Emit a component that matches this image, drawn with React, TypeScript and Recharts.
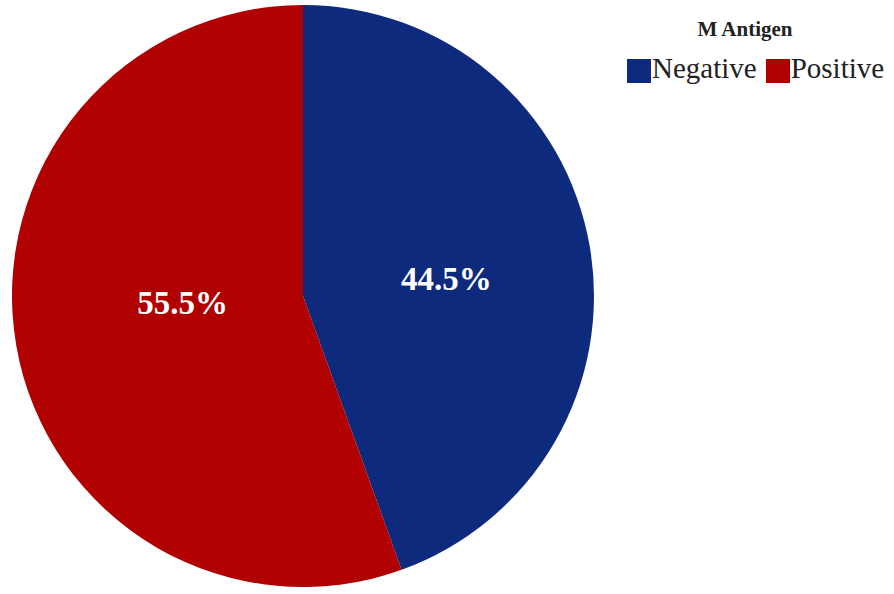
import React from 'react';
import { PieChart, Pie, Cell, Legend } from 'recharts';

const categories = ['Negative', 'Positive'];
const shares = [44.5, 55.5];
const COLORS = ['#0e2a7c', '#b00000'];

const data = categories.map((name, i) => ({ name, value: shares[i] }));

const SERIF = "'Liberation Serif', 'Times New Roman', Times, serif";
const RADIAN = Math.PI / 180;
// label radius as a fraction of the pie radius, plus a small vertical nudge
const LABEL_POS = [
  { r: 0.5, dy: 8 },
  { r: 0.42, dy: -14 },
];

const renderLabel = (props: any) => {
  const { cx, cy, midAngle, outerRadius, index } = props;
  const pos = LABEL_POS[index];
  const r = outerRadius * pos.r;
  const x = cx + r * Math.cos(-midAngle * RADIAN);
  const y = cy + r * Math.sin(-midAngle * RADIAN) + pos.dy;
  return (
    <text
      x={x}
      y={y}
      fill="#ffffff"
      textAnchor="middle"
      dominantBaseline="central"
      fontFamily={SERIF}
      fontWeight="bold"
      fontSize={33}
    >
      {`${shares[index].toFixed(1)}%`}
    </text>
  );
};

const renderLegend = () => (
  <div style={{ fontFamily: SERIF, color: '#222' }}>
    <div style={{ fontWeight: 'bold', fontSize: 21, lineHeight: '21px', width: 250, textAlign: 'center' }}>
      M Antigen
    </div>
    <div style={{ display: 'flex', alignItems: 'flex-start', fontSize: 29, lineHeight: '29px', marginTop: 14, marginLeft: 7 }}>
      {categories.map((c, i) => (
        <span key={c} style={{ display: 'flex', alignItems: 'flex-start', marginRight: i === 0 ? 9 : 0 }}>
          <span style={{ display: 'inline-block', width: 24, height: 24, background: COLORS[i], marginTop: 5, marginRight: 1 }} />
          {c}
        </span>
      ))}
    </div>
  </div>
);

export default function App() {
  return (
    <div style={{ position: 'absolute', left: 0, top: 0, width: 894, height: 594, background: '#fff' }}>
      <PieChart width={894} height={594} margin={{ top: 0, right: 0, bottom: 0, left: 0 }}>
        <Pie
          data={data}
          dataKey="value"
          nameKey="name"
          cx={303}
          cy={296}
          outerRadius={291}
          startAngle={90}
          endAngle={-270}
          stroke="none"
          label={renderLabel}
          labelLine={false}
          isAnimationActive={false}
        >
          {data.map((entry, index) => (
            <Cell key={`cell-${index}`} fill={COLORS[index % COLORS.length]} />
          ))}
        </Pie>
        <Legend
          content={renderLegend}
          layout="vertical"
          verticalAlign="top"
          align="right"
          wrapperStyle={{ top: 19, left: 620, width: 274 }}
        />
      </PieChart>
    </div>
  );
}
